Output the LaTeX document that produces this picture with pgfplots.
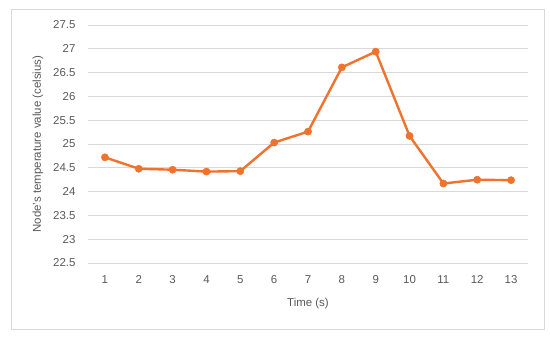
\documentclass[border=0pt]{standalone}
\usepackage{pgfplots}
\pgfplotsset{compat=1.18}
\usepackage{fontspec}
\setmainfont{Liberation Sans}
\definecolor{lineorange}{RGB}{238,115,45}
\definecolor{gridgrey}{RGB}{217,217,217}
\definecolor{textgrey}{RGB}{89,89,89}
\begin{document}
\begin{tikzpicture}[x=1bp,y=1bp]
\useasboundingbox (0,0) rectangle (550,339);
\draw[gridgrey, line width=0.8bp] (11,10) rectangle (544,330);
\begin{axis}[
  at={(88bp,76bp)}, anchor=south west,
  scale only axis, width=440bp, height=238bp,
  xmin=0.5, xmax=13.5, ymin=22.5, ymax=27.5,
  xtick={1,...,13},
  ytick={22.5,23,...,27.5},
  yticklabels={22.5,23,23.5,24,24.5,25,25.5,26,26.5,27,27.5},
  axis line style={draw=none},
  major tick length=0pt,
  ymajorgrids, grid style={gridgrey, line width=0.9bp},
  tick label style={font=\fontsize{11.5}{13}\selectfont, text=textgrey},
  /pgf/number format/assume math mode=true,
  xticklabel style={yshift=-9bp},
  yticklabel style={xshift=-9bp},
  xlabel={Time (s)}, ylabel={Node's temperature value (celsius)},
  label style={font=\fontsize{11.5}{13}\selectfont, text=textgrey},
  xlabel style={yshift=-8bp},
  ylabel style={yshift=3bp},
]
\addplot[lineorange, line width=2.4bp, mark=*, mark size=3.6bp, mark options={fill=lineorange, draw=lineorange, line width=0.5bp}]
coordinates {
(1,24.72) (2,24.48) (3,24.46) (4,24.42) (5,24.43) (6,25.03) (7,25.26)
(8,26.61) (9,26.94) (10,25.17) (11,24.17) (12,24.25) (13,24.24)
};
\end{axis}
\end{tikzpicture}
\end{document}
